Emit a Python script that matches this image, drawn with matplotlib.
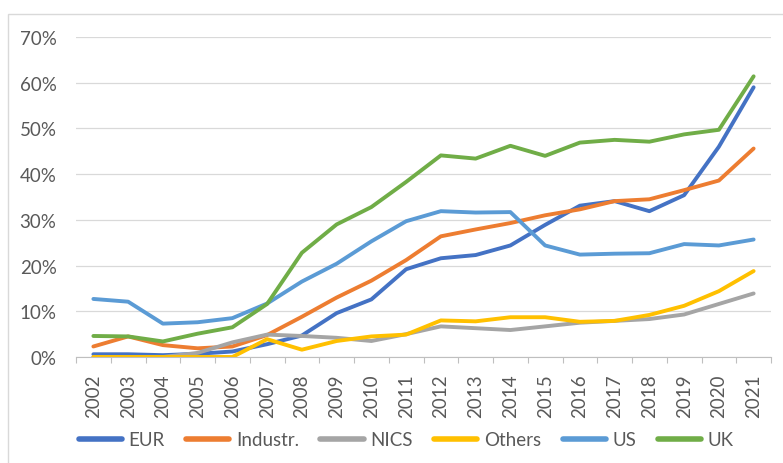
import numpy as np
import matplotlib
matplotlib.use("Agg")
import matplotlib.pyplot as plt
from matplotlib.patches import Rectangle
from matplotlib.ticker import PercentFormatter, FixedLocator

plt.rcParams["font.family"] = ["Lato", "DejaVu Sans"]

years = [str(y) for y in range(2002, 2022)]

eur = [0.6, 0.6, 0.4, 0.7, 1.2, 2.8, 4.7, 9.6, 12.6, 19.2, 21.6, 22.3, 24.4, 28.9, 33.1, 34.1, 31.9, 35.4, 46.0, 59.0]
industr = [2.3, 4.5, 2.6, 1.9, 2.3, 4.8, 8.8, 13.0, 16.7, 21.2, 26.4, 27.9, 29.3, 31.0, 32.3, 34.1, 34.5, 36.5, 38.6, 45.6]
nics = [0.0, 0.0, 0.0, 0.9, 3.2, 4.9, 4.6, 4.2, 3.5, 5.0, 6.7, 6.3, 5.9, 6.7, 7.5, 7.9, 8.3, 9.3, 11.6, 13.9]
others = [0.0, 0.0, 0.0, 0.0, 0.0, 3.9, 1.6, 3.5, 4.5, 4.9, 8.0, 7.8, 8.7, 8.7, 7.7, 7.9, 9.2, 11.2, 14.4, 18.8]
us = [12.7, 12.1, 7.3, 7.6, 8.5, 11.7, 16.5, 20.4, 25.3, 29.7, 31.9, 31.6, 31.7, 24.4, 22.4, 22.6, 22.7, 24.7, 24.4, 25.7]
uk = [4.6, 4.5, 3.4, 5.1, 6.5, 11.6, 22.8, 29.0, 32.8, 38.3, 44.1, 43.4, 46.2, 44.0, 46.9, 47.5, 47.1, 48.7, 49.7, 61.4]

series = [("EUR", eur, "#4472C4"), ("Industr.", industr, "#ED7D31"), ("NICS", nics, "#A5A5A5"),
          ("Others", others, "#FFC000"), ("US", us, "#5B9BD5"), ("UK", uk, "#70AD47")]

grey_txt = "#595959"
fs = 13.5

fig = plt.figure(figsize=(7.83, 4.64), dpi=100)
fig.patches.append(Rectangle((8 / 783, -0.1), 1.2, 1 - 15 / 464 + 0.1, transform=fig.transFigure,
                             fill=False, edgecolor="#d9d9d9", linewidth=1.0))

ax = fig.add_axes([76 / 783, 1 - 358 / 464, (771 - 76) / 783, (358 - 38) / 464])
x = np.arange(len(years))
for name, vals, col in series:
    ax.plot(x, np.array(vals) / 100, color=col, linewidth=2.8, label=name, solid_capstyle="round")

ax.set_xlim(-0.5, len(years) - 0.5)
ax.set_ylim(0, 0.7)
ax.set_yticks(np.arange(0, 0.71, 0.1))
ax.yaxis.set_major_formatter(PercentFormatter(1.0, decimals=0))
ax.set_xticks(x)
ax.set_xticklabels(years, rotation=90)
ax.xaxis.set_minor_locator(FixedLocator(np.arange(-0.5, len(years), 1)))
ax.tick_params(axis="x", which="major", length=0, pad=12, labelsize=fs, labelcolor=grey_txt)
ax.tick_params(axis="x", which="minor", length=4, color="#bfbfbf", width=0.8)
ax.tick_params(axis="y", length=0, pad=14, labelsize=fs, labelcolor=grey_txt)

ax.grid(axis="y", color="#d9d9d9", linewidth=0.9)
ax.set_axisbelow(True)
for s in ["top", "right", "left"]:
    ax.spines[s].set_visible(False)
ax.spines["bottom"].set_color("#bfbfbf")
ax.spines["bottom"].set_linewidth(0.8)

leg = fig.legend(loc="center", bbox_to_anchor=(406 / 783, 1 - 441 / 464), ncol=6, frameon=False,
                 fontsize=fs, handlelength=2.3, handletextpad=0.35, columnspacing=1.15)
for t in leg.get_texts():
    t.set_color(grey_txt)
for h in leg.get_lines():
    h.set_linewidth(4)

fig.savefig("out.png", dpi=100)
